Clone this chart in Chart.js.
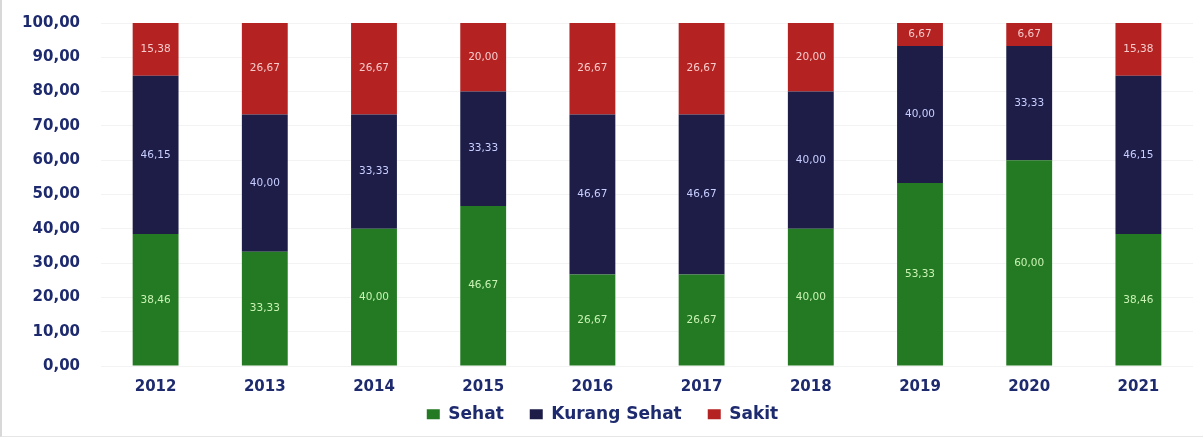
<!DOCTYPE html>
<html>
<head>
<meta charset="utf-8">
<script src="https://cdn.jsdelivr.net/npm/chart.js@4.4.1/dist/chart.umd.min.js"></script>
<style>
  html, body { margin: 0; padding: 0; background: #ffffff; }
  #wrap { position: relative; width: 1203px; height: 437px; box-sizing: border-box; border-left: 2px solid #d8d8d8; border-bottom: 1px solid #e6e6e6; margin-left: 0; }
  canvas { display: block; }
</style>
</head>
<body>
<div id="wrap"><canvas id="c" width="1201" height="436"></canvas></div>
<script>
const categories = ['2012','2013','2014','2015','2016','2017','2018','2019','2020','2021'];
const sehat = [38.46, 33.33, 40.00, 46.67, 26.67, 26.67, 40.00, 53.33, 60.00, 38.46];
const kurangSehat = [46.15, 40.00, 33.33, 33.33, 46.67, 46.67, 40.00, 40.00, 33.33, 46.15];
const sakit = [15.38, 26.67, 26.67, 20.00, 26.67, 26.67, 20.00, 6.67, 6.67, 15.38];
const yTicks = [0,10,20,30,40,50,60,70,80,90,100];

const navy = '#1e2a6e';
const fmt = v => v.toFixed(2).replace('.', ',');
const LEGEND_PAD = 26;
const LEGEND_FONT = 17;

const labelPlugin = {
  id: 'segLabels',
  beforeLayout(chart) {
    const L = chart.legend;
    if (L && !L._wrapped) {
      const orig = L.fit.bind(L);
      L.fit = function () { orig(); this.height = 28; };
      L._wrapped = true;
    }
  },
  afterLayout(chart) {
    const L = chart.legend;
    if (L) {
      const itemH = LEGEND_FONT * 1.2;
      L.top = 416 - LEGEND_PAD - itemH / 2;
      L.bottom = chart.height;
      L.height = L.bottom - L.top;
    }
  },
  afterDatasetsDraw(chart) {
    const ctx = chart.ctx;
    ctx.save();
    ctx.font = '10.5px "DejaVu Sans"';
    ctx.textAlign = 'center';
    ctx.textBaseline = 'middle';
    chart.data.datasets.forEach((ds, di) => {
      const meta = chart.getDatasetMeta(di);
      meta.data.forEach((bar, i) => {
        const y = (bar.y + bar.base) / 2;
        ctx.fillStyle = ds.labelColor;
        ctx.fillText(fmt(ds.data[i]), bar.x, y);
      });
    });
    ctx.restore();
  }
};

new Chart(document.getElementById('c'), {
  type: 'bar',
  data: {
    labels: categories,
    datasets: [
      { label: 'Sehat', data: sehat, backgroundColor: '#237a23', labelColor: '#c9f2b4' },
      { label: 'Kurang Sehat', data: kurangSehat, backgroundColor: '#1d1d47', labelColor: '#c8ceff' },
      { label: 'Sakit', data: sakit, backgroundColor: '#b42222', labelColor: '#f6cccc' }
    ]
  },
  options: {
    responsive: false,
    animation: false,
    layout: { padding: { top: 23, right: 10, left: 10, bottom: 0 } },
    datasets: { bar: { barPercentage: 0.42, categoryPercentage: 1.0 } },
    plugins: {
      legend: {
        position: 'bottom',
        labels: {
          color: navy,
          font: { family: '"DejaVu Sans"', weight: 'bold', size: LEGEND_FONT },
          boxWidth: 13, boxHeight: 10, padding: LEGEND_PAD
        }
      },
      tooltip: { enabled: false }
    },
    scales: {
      x: {
        stacked: true,
        grid: { display: false, drawTicks: false },
        border: { display: false },
        ticks: { color: navy, font: { family: '"DejaVu Sans"', weight: 'bold', size: 15 }, padding: 12 }
      },
      y: {
        stacked: true,
        min: 0, max: 100,
        grid: { display: true, color: '#f3f3f3', drawTicks: true, tickLength: 21, tickColor: 'rgba(0,0,0,0)' },
        border: { display: false },
        afterBuildTicks: s => { s.ticks = yTicks.map(v => ({ value: v })); },
        afterFit: s => { s.width = 89; },
        ticks: {
          color: navy,
          font: { family: '"DejaVu Sans"', weight: 'bold', size: 15 },
          padding: 0,
          callback: v => fmt(v)
        }
      }
    }
  },
  plugins: [labelPlugin]
});
</script>
</body>
</html>
